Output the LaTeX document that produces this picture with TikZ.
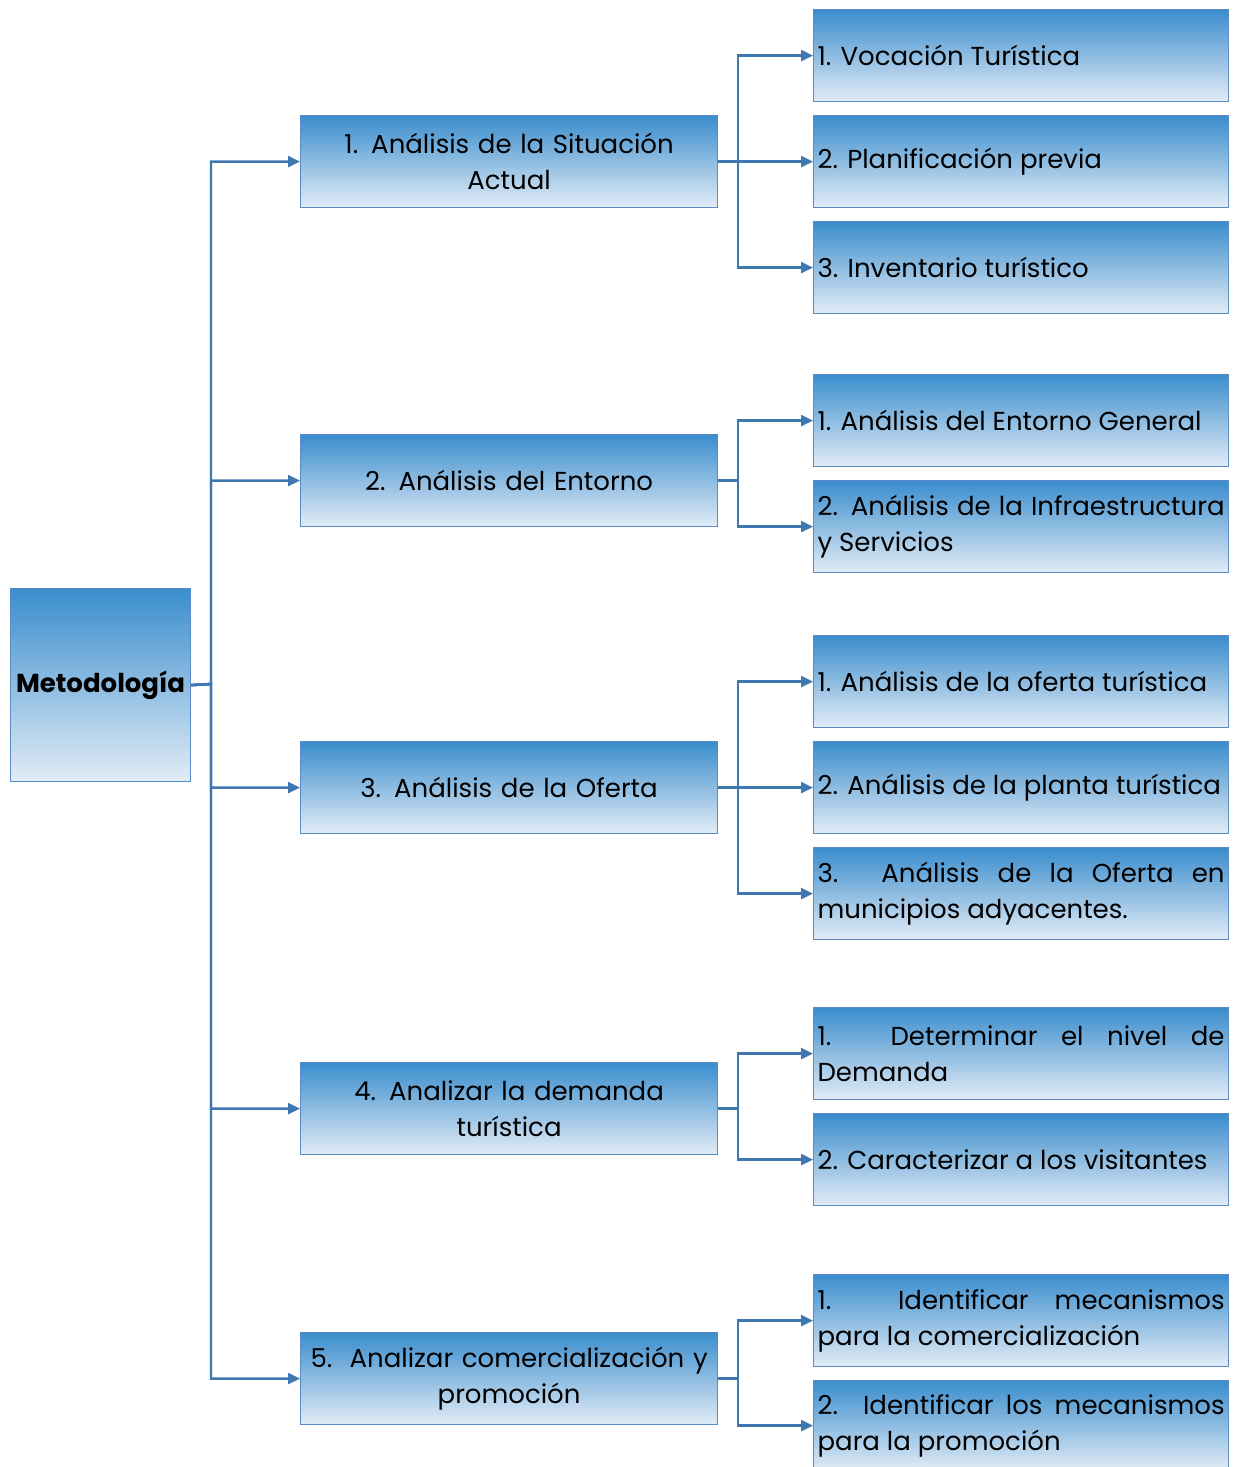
\documentclass[tikz,border=0pt]{standalone}
\usepackage{fontspec}
\setmainfont{Poppins}
\usetikzlibrary{arrows.meta}
\definecolor{boxtop}{RGB}{58,141,205}
\definecolor{boxbot}{RGB}{226,236,246}
\definecolor{boxline}{RGB}{90,139,196}
\definecolor{conline}{RGB}{63,119,176}
\tikzset{
  basebox/.style={draw=boxline, line width=1.2pt, top color=boxtop, bottom color=boxbot,
    anchor=north west, inner sep=0pt, font=\fontsize{26}{36}\selectfont},
  rootbox/.style={basebox, minimum width=180pt, minimum height=193pt,
    font=\fontsize{26}{32}\selectfont\bfseries},
  lonebox/.style={basebox, minimum width=417pt, minimum height=92pt,
    text width=405pt, align=center},
  ltwobox/.style={basebox, minimum width=415pt, minimum height=92pt,
    text width=407pt, align=justify, inner xsep=4pt},
  conn/.style={draw=conline, line width=2.4pt},
  arr/.style={conn, -{Triangle[length=12pt,width=11pt]}},
}
\begin{document}
\begin{tikzpicture}[x=1pt,y=-1pt]
\useasboundingbox (0,0) rectangle (1236,1467);
\begin{scope}
\clip (0,0) rectangle (1236,1467);
% root
\node[rootbox] (root) at (10,588) {Metodología};
% level 1
\node[lonebox] (a1) at (300,115) {1. Análisis de la Situación\\Actual};
\node[lonebox] (a2) at (300,434) {2. Análisis del Entorno};
\node[lonebox] (a3) at (300,741) {3. Análisis de la Oferta};
\node[lonebox] (a4) at (300,1062) {4. Analizar la demanda\\turística};
\node[lonebox] (a5) at (300,1332) {5.\ \ Analizar comercialización y\\promoción};
% level 2
\node[ltwobox] (b11) at (813,9) {1. Vocación Turística};
\node[ltwobox] (b12) at (813,115) {2. Planificación previa};
\node[ltwobox] (b13) at (813,221) {3. Inventario turístico};
\node[ltwobox] (b21) at (813,374) {1. Análisis del Entorno General};
\node[ltwobox] (b22) at (813,480) {2. Análisis de la Infraestructura\break y Servicios};
\node[ltwobox] (b31) at (813,635) {1. Análisis de la oferta turística};
\node[ltwobox] (b32) at (813,741) {2. Análisis de la planta turística};
\node[ltwobox] (b33) at (813,847) {3. Análisis de la Oferta en\break municipios adyacentes.};
\node[ltwobox] (b41) at (813,1007) {1. Determinar el nivel de\break Demanda};
\node[ltwobox] (b42) at (813,1113) {2. Caracterizar a los visitantes};
\node[ltwobox] (b51) at (813,1274) {1. Identificar mecanismos\break para la comercialización};
\node[ltwobox, minimum height=90pt] (b52) at (813,1380) {2. Identificar los mecanismos\break para la promoción};
% trunk
\coordinate (trunk) at (211,684);
\foreach \t in {a1,a2,a3,a4,a5}{
  \draw[arr] (root.east) -- (trunk) |- (\t.west);
}
\foreach \s/\t in {a1/b11,a1/b12,a1/b13,a2/b21,a2/b22,a3/b31,a3/b32,a3/b33,a4/b41,a4/b42,a5/b51,a5/b52}{
  \draw[arr] (\s.east) -- ++(20,0) |- (\t.west);
}
\end{scope}
\end{tikzpicture}
\end{document}
